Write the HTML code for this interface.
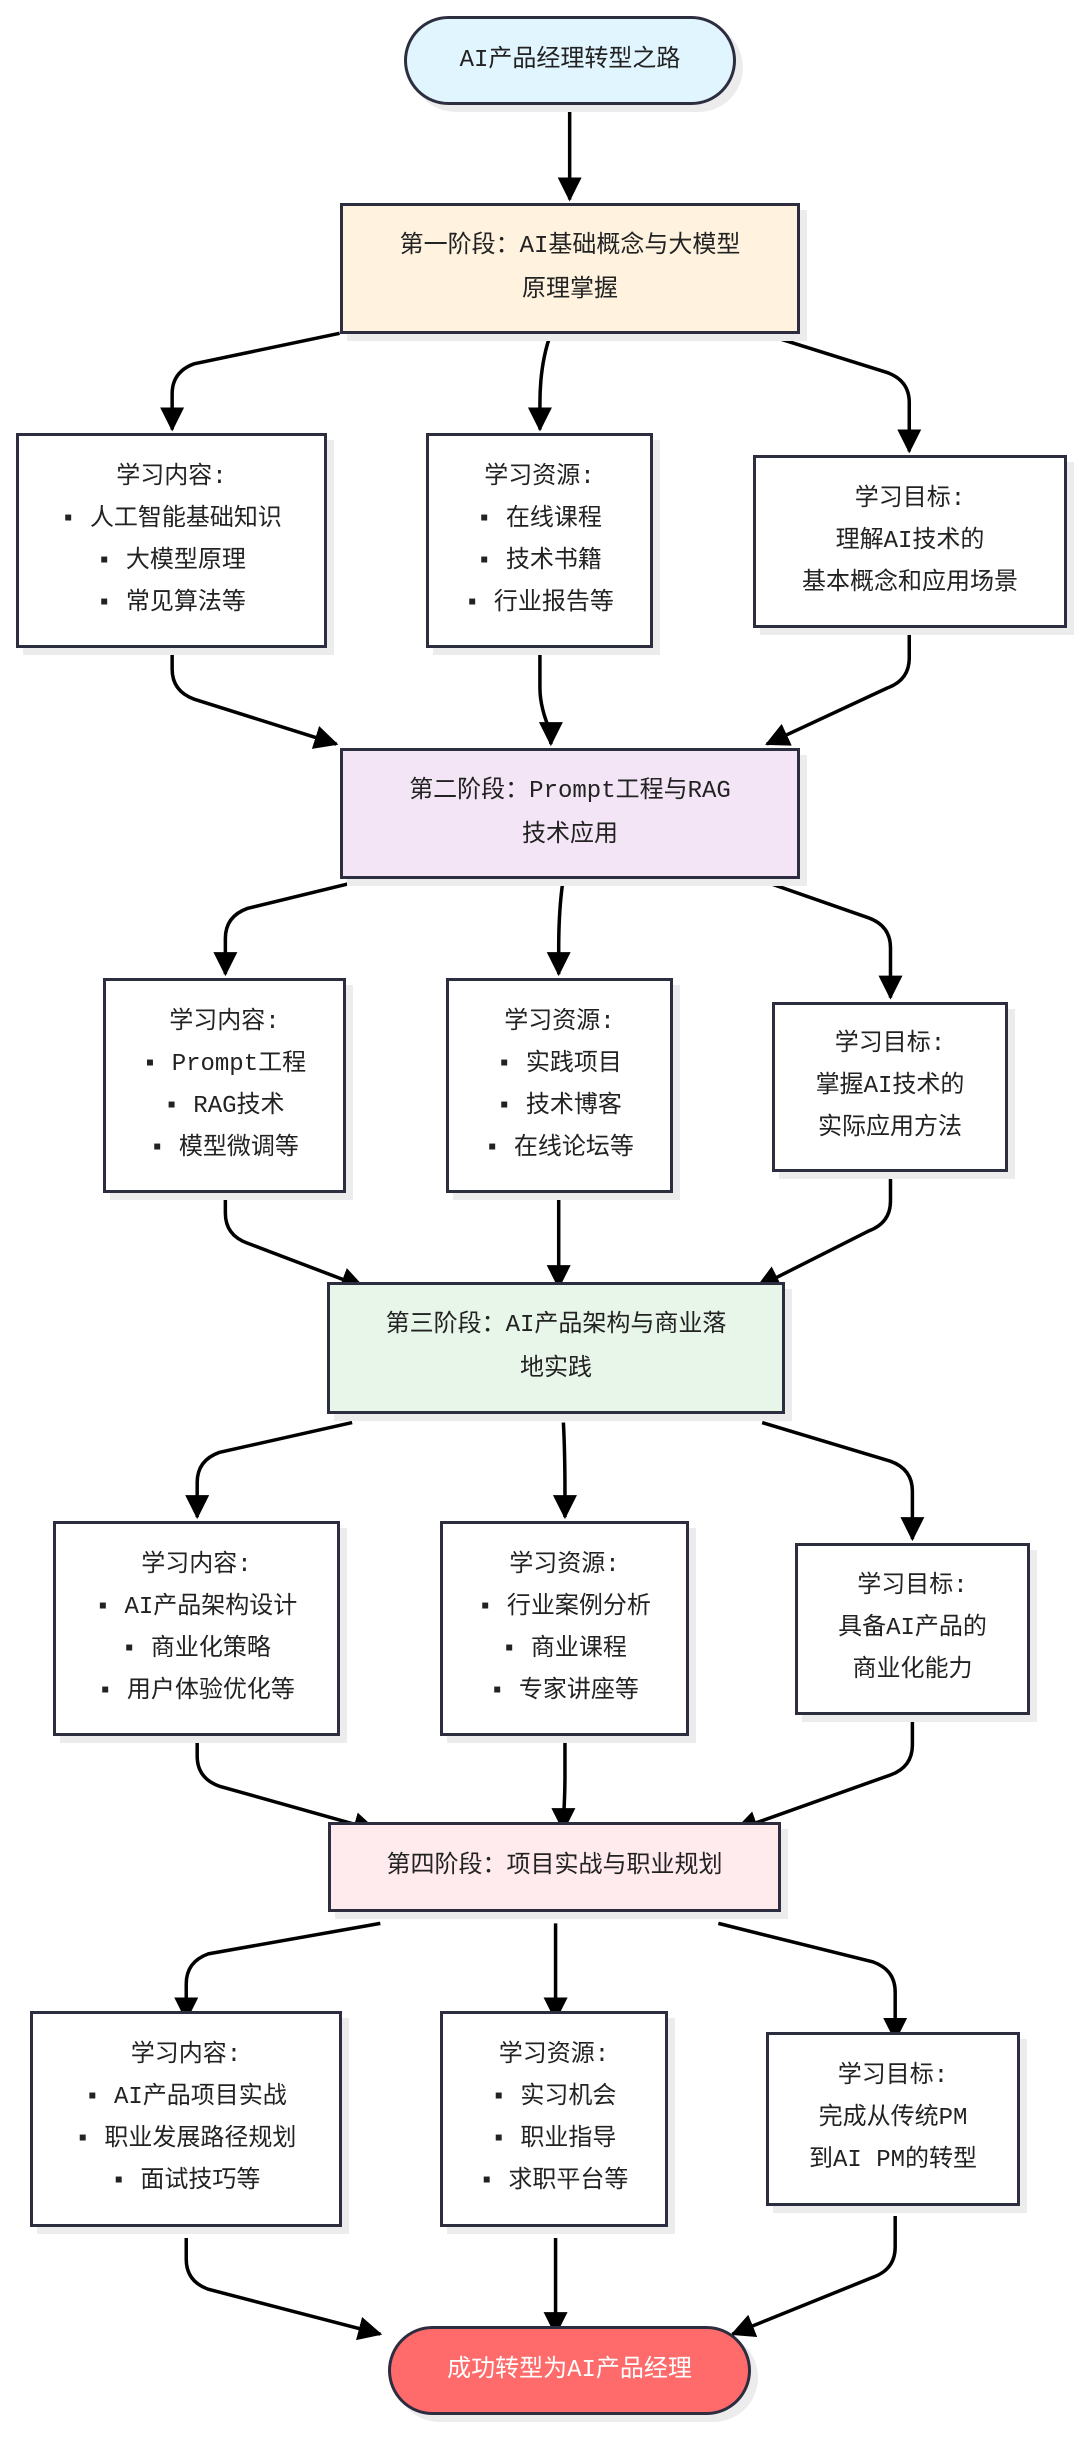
<!DOCTYPE html>
<html><head><meta charset="utf-8">
<style>
html,body{margin:0;padding:0;background:#fff;}
body{width:1080px;height:2438px;position:relative;overflow:hidden;font-family:"Liberation Mono","Noto Sans CJK SC",monospace;color:#222;}
.b{position:absolute;box-sizing:border-box;border:3px solid #2d2d40;display:flex;align-items:center;justify-content:center;text-align:center;font-size:24px;line-height:42px;box-shadow:7px 7px 0 #ececec;background:#fff;font-family:"Liberation Mono","Noto Sans CJK SC",monospace;color:#222;}
.s{line-height:44px;}
.p{border-radius:70px;}
svg{position:absolute;left:0;top:0;}
</style></head><body>
<svg id="sv" width="1080" height="2438">
<defs><marker id="a" markerUnits="userSpaceOnUse" markerWidth="26" markerHeight="24" refX="22" refY="12" orient="auto"><path d="M0,0 L24,12 L0,24 z" fill="#000"/></marker></defs>
</svg>
<div class="b p s" style="left:404px;top:16px;width:332px;height:89px;background:#e1f5fe;">AI产品经理转型之路</div>
<div class="b s" style="left:340px;top:203px;width:460px;height:131px;background:#fff3e0;">第一阶段：AI基础概念与大模型<br>原理掌握</div>
<div class="b" style="left:16px;top:433px;width:311px;height:215px;">学习内容:<br>▪ 人工智能基础知识<br>▪ 大模型原理<br>▪ 常见算法等</div>
<div class="b" style="left:426px;top:433px;width:227px;height:215px;">学习资源:<br>▪ 在线课程<br>▪ 技术书籍<br>▪ 行业报告等</div>
<div class="b" style="left:753px;top:455px;width:314px;height:173px;">学习目标:<br>理解AI技术的<br>基本概念和应用场景</div>

<div class="b s" style="left:340px;top:748px;width:460px;height:131px;background:#f3e5f5;">第二阶段：Prompt工程与RAG<br>技术应用</div>
<div class="b" style="left:103px;top:978px;width:243px;height:215px;">学习内容:<br>▪ Prompt工程<br>▪ RAG技术<br>▪ 模型微调等</div>
<div class="b" style="left:446px;top:978px;width:227px;height:215px;">学习资源:<br>▪ 实践项目<br>▪ 技术博客<br>▪ 在线论坛等</div>
<div class="b" style="left:772px;top:1002px;width:236px;height:170px;">学习目标:<br>掌握AI技术的<br>实际应用方法</div>

<div class="b s" style="left:327px;top:1282px;width:458px;height:132px;background:#e8f5e9;">第三阶段：AI产品架构与商业落<br>地实践</div>
<div class="b" style="left:53px;top:1521px;width:287px;height:215px;">学习内容:<br>▪ AI产品架构设计<br>▪ 商业化策略<br>▪ 用户体验优化等</div>
<div class="b" style="left:440px;top:1521px;width:249px;height:215px;">学习资源:<br>▪ 行业案例分析<br>▪ 商业课程<br>▪ 专家讲座等</div>
<div class="b" style="left:795px;top:1543px;width:235px;height:172px;">学习目标:<br>具备AI产品的<br>商业化能力</div>

<div class="b s" style="left:328px;top:1822px;width:453px;height:90px;background:#ffebee;">第四阶段：项目实战与职业规划</div>
<div class="b" style="left:30px;top:2011px;width:312px;height:216px;">学习内容:<br>▪ AI产品项目实战<br>▪ 职业发展路径规划<br>▪ 面试技巧等</div>
<div class="b" style="left:440px;top:2011px;width:228px;height:216px;">学习资源:<br>▪ 实习机会<br>▪ 职业指导<br>▪ 求职平台等</div>
<div class="b" style="left:766px;top:2032px;width:254px;height:174px;">学习目标:<br>完成从传统PM<br>到AI PM的转型</div>

<div class="b p" style="left:388px;top:2326px;width:363px;height:89px;background:#ff6b6b;color:#fff;">成功转型为AI产品经理</div>
<script>
var k=1.565,sv=document.getElementById('sv');
function L(d){var p=document.createElementNS('http://www.w3.org/2000/svg','path');p.setAttribute('d',d);p.setAttribute('stroke','#000');p.setAttribute('stroke-width','3.5');p.setAttribute('fill','none');p.setAttribute('marker-end','url(#a)');sv.appendChild(p);}
function dn(sx,sy,tx,ty){sx*=k;sy*=k;tx*=k;ty*=k;ty-=4;
 if(Math.abs(sx-tx)<15){L('M'+sx+','+sy+' Q'+tx+','+(sy+30)+' '+tx+','+(sy+70)+' L'+tx+','+ty);return;}
 var e=sy+0.4*(ty-sy),dx=tx<sx?22:-22;
 L('M'+sx+','+sy+' L'+(tx+dx)+','+(e-8)+' Q'+tx+','+e+' '+tx+','+(e+22)+' L'+tx+','+ty);}
function up(sx,sy,tx,ty){sx*=k;sy*=k;tx*=k;ty*=k;ty-=4;
 if(Math.abs(sx-tx)<15){L('M'+sx+','+sy+' L'+sx+','+(sy+40)+' Q'+sx+','+(sy+60)+' '+tx+','+(sy+85)+' L'+tx+','+ty);return;}
 var e=sy+0.45*(ty-sy),dx=tx>sx?22:-22;
 L('M'+sx+','+sy+' L'+sx+','+(e-22)+' Q'+sx+','+e+' '+(sx+dx)+','+(e+8)+' L'+tx+','+ty);}
dn(364,67,364,130);
var D=[[[217,213,110,277],[352,213,345,277],[487,213,581,291]],
[[238,561,144,625],[360,561,357,625],[482,561,569,640]],
[[225,909,126,972],[360,909,361,972],[487,909,583,986]],
[[243,1229,119,1293],[355,1229,355,1293],[459,1229,572,1306]]];
var U=[[[110,414,215,478],[345,414,352,478],[581,401,490,478]],
[[144,762,232,825],[357,762,357,825],[569,748,484,825]],
[[126,1109,240,1172],[361,1109,360,1172],[583,1096,470,1172]],
[[119,1430,243,1494],[355,1430,355,1494],[572,1416,468,1494]]];
D.forEach(function(r){r.forEach(function(c){dn.apply(null,c);});});
U.forEach(function(r){r.forEach(function(c){up.apply(null,c);});});
</script>
</body></html>
